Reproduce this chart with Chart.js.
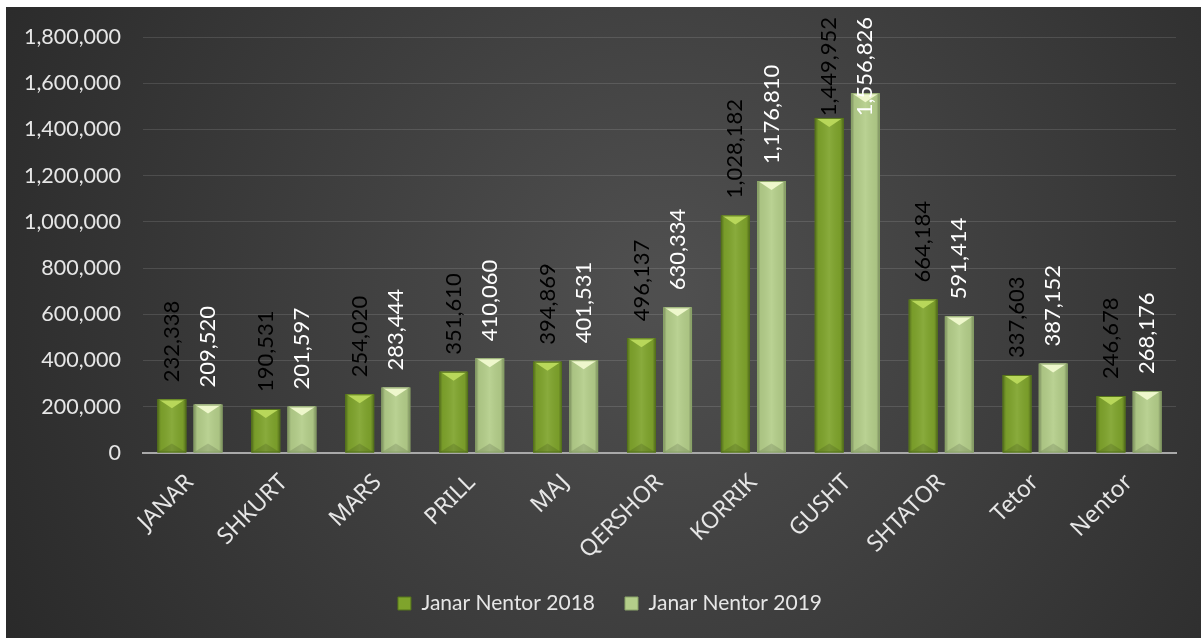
<!DOCTYPE html>
<html>
<head>
<meta charset="utf-8">
<script src="https://cdn.jsdelivr.net/npm/chart.js@4.4.1/dist/chart.umd.min.js"></script>
<style>
  html, body { margin: 0; padding: 0; background: #fff; }
  #wrap { position: absolute; left: 6px; top: 7px; width: 1195px; height: 631px; }
</style>
</head>
<body>
<div id="wrap"><canvas id="bars"></canvas></div>
<script>
const months = ['JANAR', 'SHKURT', 'MARS', 'PRILL', 'MAJ', 'QERSHOR', 'KORRIK', 'GUSHT', 'SHTATOR', 'Tetor', 'Nentor']
const visitors2018 = [232338, 190531, 254020, 351610, 394869, 496137, 1028182, 1449952, 664184, 337603, 246678]
const visitors2019 = [209520, 201597, 283444, 410060, 401531, 630334, 1176810, 1556826, 591414, 387152, 268176]
const yTicks = [0, 200000, 400000, 600000, 800000, 1000000, 1200000, 1400000, 1600000, 1800000]

const fmt = (v) => v.toLocaleString('en-US')

// bar look: main, top bevel, edge, label colour
const looks = [
  { main: '#7fa42c', top: '#b8d75a', edge: '#55741a', label: '#000000' },
  { main: '#b4ce8a', top: '#eef7cc', edge: '#8aa468', label: '#ffffff' },
]

const background = {
  id: 'background',
  beforeDraw(chart) {
    const { ctx, width, height } = chart
    const g = ctx.createRadialGradient(width * 0.55, height * 0.45, 20, width * 0.55, height * 0.45, width * 0.62)
    g.addColorStop(0, '#4f4f4f')
    g.addColorStop(1, '#2a2a2a')
    ctx.save()
    ctx.fillStyle = g
    ctx.fillRect(0, 0, width, height)
    ctx.restore()
  },
  afterLayout(chart) {
    // nudge the legend a little to the right, like the original
    chart.legend.left += 19
    chart.legend.right += 19
  },
}

const bevel = {
  id: 'bevel',
  afterDatasetsDraw(chart) {
    const { ctx } = chart
    chart.data.datasets.forEach((ds, i) => {
      const look = looks[i]
      chart.getDatasetMeta(i).data.forEach((bar) => {
        const l = bar.x - bar.width / 2
        const r = bar.x + bar.width / 2
        const t = bar.y
        const b = bar.base
        ctx.save()
        // side shading
        const g = ctx.createLinearGradient(l, 0, r, 0)
        g.addColorStop(0, 'rgba(0,0,0,0.35)')
        g.addColorStop(0.12, 'rgba(0,0,0,0.05)')
        g.addColorStop(0.5, 'rgba(255,255,255,0.08)')
        g.addColorStop(0.88, 'rgba(0,0,0,0.05)')
        g.addColorStop(1, 'rgba(0,0,0,0.35)')
        ctx.fillStyle = g
        ctx.fillRect(l, t, r - l, b - t)
        // top bevel
        const d = Math.min(9, (b - t) / 2)
        ctx.fillStyle = look.top
        ctx.beginPath()
        ctx.moveTo(l + 1, t)
        ctx.lineTo(r - 1, t)
        ctx.lineTo(bar.x, t + d)
        ctx.closePath()
        ctx.fill()
        // bottom soft bevel
        ctx.fillStyle = 'rgba(0,0,0,0.12)'
        ctx.beginPath()
        ctx.moveTo(l, b)
        ctx.lineTo(r, b)
        ctx.lineTo(bar.x, b - d)
        ctx.closePath()
        ctx.fill()
        ctx.strokeStyle = look.edge
        ctx.lineWidth = 1
        ctx.strokeRect(l + 0.5, t + 0.5, r - l - 1, b - t - 1)
        ctx.restore()
      })
    })
  },
}

const valueLabels = {
  id: 'valueLabels',
  afterDraw(chart) {
    const { ctx } = chart
    ctx.save()
    ctx.font = '22px Lato'
    ctx.textAlign = 'left'
    ctx.textBaseline = 'middle'
    chart.data.datasets.forEach((ds, i) => {
      ctx.fillStyle = looks[i].label
      chart.getDatasetMeta(i).data.forEach((bar, j) => {
        const text = fmt(ds.data[j])
        const w = ctx.measureText(text).width
        let start = bar.y - 17
        if (start - w < 10) start = 10 + w
        ctx.save()
        ctx.translate(bar.x, start)
        ctx.rotate(-Math.PI / 2)
        ctx.fillText(text, 0, 0)
        ctx.restore()
      })
    })
    ctx.restore()
  },
}

const barConfig = {
  type: 'bar',
  data: {
    labels: months,
    datasets: [
      {
        label: 'Janar Nentor 2018',
        backgroundColor: looks[0].main,
        data: visitors2018,
        categoryPercentage: 0.77,
        barPercentage: 0.8,
      },
      {
        label: 'Janar Nentor 2019',
        backgroundColor: looks[1].main,
        data: visitors2019,
        categoryPercentage: 0.77,
        barPercentage: 0.8,
      },
    ],
  },
  options: {
    responsive: true,
    maintainAspectRatio: false,
    animation: false,
    layout: { padding: { top: 30, right: 25, bottom: 14, left: 0 } },
    plugins: {
      tooltip: { enabled: false },
      legend: {
        position: 'bottom',
        labels: {
          color: '#e6e6e6',
          font: { family: 'Lato', size: 21 },
          boxWidth: 13,
          boxHeight: 13,
          padding: 30,
          generateLabels(chart) {
            return chart.data.datasets.map((ds, i) => ({
              text: ds.label,
              fillStyle: looks[i].main,
              strokeStyle: looks[i].edge,
              lineWidth: 1,
              fontColor: '#e6e6e6',
              datasetIndex: i,
            }))
          },
        },
      },
    },
    scales: {
      x: {
        grid: { display: false },
        border: { display: true, color: '#a9a9a9', width: 2 },
        ticks: {
          color: '#e6e6e6',
          font: { family: 'Noto Sans', size: 23 },
          minRotation: 45,
          maxRotation: 45,
          padding: 8,
        },
        afterFit(scale) { scale.height = 110 },
      },
      y: {
        min: 0,
        max: 1800000,
        afterBuildTicks(scale) { scale.ticks = yTicks.map((v) => ({ value: v })) },
        grid: { color: 'rgba(255,255,255,0.12)', drawTicks: false },
        border: { display: false },
        ticks: {
          color: '#e6e6e6',
          font: { family: 'Lato', size: 21.5 },
          padding: 22,
          callback: (v) => fmt(v),
        },
        afterFit(scale) {
          scale.width = 137
          scale.paddingTop = 0
          scale.paddingBottom = 0
        },
      },
    },
  },
  plugins: [background, bevel, valueLabels],
}

const barsCtx = document.getElementById('bars')
window.myBar = new Chart(barsCtx, barConfig)
</script>
</body>
</html>
